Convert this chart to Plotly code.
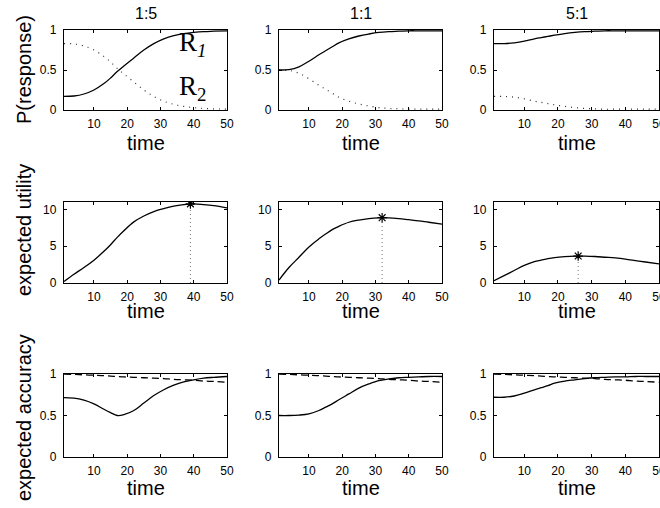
import plotly.graph_objects as go

# ---------------- data ----------------
t = [1, 4, 7, 10, 13, 15, 17, 19, 22, 25, 28, 31, 34, 37, 40, 43, 46, 50]
col_titles = ["1:5", "1:1", "5:1"]
row_labels = ["P(response)", "expected utility", "expected accuracy"]

# row 1: P(response)
r1_15 = [.17, .175, .20, .25, .33, .40, .48, .55, .65, .75, .83, .89, .93, .955, .97, .98, .985, .99]
r2_15 = [.83, .825, .80, .75, .67, .60, .52, .45, .35, .25, .17, .11, .07, .045, .03, .02, .015, .01]
r1_11 = [.50, .505, .54, .61, .69, .74, .79, .84, .89, .925, .95, .97, .98, .985, .99, .99, .99, .99]
r2_11 = [.50, .495, .46, .39, .31, .26, .21, .16, .11, .075, .05, .03, .02, .015, .01, .01, .01, .01]
r1_51 = [.83, .83, .84, .86, .89, .905, .92, .935, .955, .97, .98, .985, .99, .99, .99, .99, .99, .99]
r2_51 = [.17, .17, .16, .14, .11, .095, .08, .065, .045, .03, .02, .015, .01, .01, .01, .01, .01, .01]

# row 2: expected utility
eu_15 = [0.2, 1.2, 2.1, 3.1, 4.3, 5.2, 6.2, 7.1, 8.3, 9.1, 9.7, 10.1, 10.45, 10.65, 10.75, 10.65, 10.5, 10.2]
eu_11 = [0.4, 2.1, 3.5, 4.9, 6.0, 6.65, 7.25, 7.7, 8.25, 8.55, 8.75, 8.85, 8.85, 8.75, 8.6, 8.45, 8.25, 8.0]
eu_51 = [0.3, 1.0, 1.7, 2.4, 2.9, 3.1, 3.3, 3.45, 3.58, 3.65, 3.65, 3.6, 3.5, 3.4, 3.25, 3.05, 2.85, 2.6]
peak_t = [39, 32, 26]
peak_u = [10.75, 8.87, 3.66]

# row 3: expected accuracy
ea_15 = [.715, .71, .685, .64, .575, .535, .50, .51, .56, .65, .74, .81, .865, .905, .93, .95, .96, .97]
ea_11 = [.50, .50, .505, .52, .56, .60, .64, .69, .76, .83, .88, .92, .94, .955, .96, .965, .97, .97]
ea_51 = [.72, .72, .735, .77, .81, .835, .86, .89, .915, .93, .945, .955, .96, .965, .965, .97, .97, .97]
acc_ref = [1.0, .995, .99, .985, .98, .975, .97, .965, .96, .955, .95, .945, .935, .93, .925, .915, .91, .90]

x_ticks = [10, 20, 30, 40, 50]
W, H = 660, 508

# ---------------- layout geometry (pixels) ----------------
col_px = [(64, 227), (279, 442), (494, 659)]
row_px = [(30, 110), (202, 283), (374, 457)]

def xd(a, b):
    return [a / W, b / W]

def yd(a, b):
    return [1 - b / H, 1 - a / H]

FONT = "Liberation Sans, Arial, Helvetica, sans-serif"
fig = go.Figure()

solid = dict(color="black", width=1.3)
dotted = dict(color="#333333", width=1.2, dash="1px,5px")
dashed = dict(color="black", width=1.3, dash="7px,4px")

row_series = [
    [(r1_15, r2_15), (r1_11, r2_11), (r1_51, r2_51)],
    [eu_15, eu_11, eu_51],
    [ea_15, ea_11, ea_51],
]

for r in range(3):
    for c in range(3):
        k = r * 3 + c + 1
        xa = "x" if k == 1 else f"x{k}"
        ya = "y" if k == 1 else f"y{k}"
        if r == 0:
            s1, s2 = row_series[0][c]
            fig.add_trace(go.Scatter(x=t, y=s2, mode="lines", line=dotted, line_shape="spline", xaxis=xa, yaxis=ya))
            fig.add_trace(go.Scatter(x=t, y=s1, mode="lines", line=solid, line_shape="spline", xaxis=xa, yaxis=ya))
        elif r == 1:
            fig.add_trace(go.Scatter(x=[peak_t[c], peak_t[c]], y=[0, peak_u[c]], mode="lines",
                                     line=dict(color="#777777", width=1, dash="1px,3px"), xaxis=xa, yaxis=ya))
            fig.add_trace(go.Scatter(x=t, y=row_series[1][c], mode="lines", line=solid, line_shape="spline",
                                     xaxis=xa, yaxis=ya))
            fig.add_trace(go.Scatter(x=[peak_t[c]], y=[peak_u[c]], mode="markers",
                                     marker=dict(symbol="asterisk-open", size=8, color="black",
                                                 line=dict(color="black", width=1.2)),
                                     xaxis=xa, yaxis=ya))
        else:
            fig.add_trace(go.Scatter(x=t, y=acc_ref, mode="lines", line=dashed, line_shape="spline", xaxis=xa, yaxis=ya))
            fig.add_trace(go.Scatter(x=t, y=row_series[2][c], mode="lines", line=solid, line_shape="spline",
                                     xaxis=xa, yaxis=ya))

        common = dict(showline=True, linecolor="black", linewidth=1.3, mirror="ticks", ticks="inside",
                      ticklen=3, tickcolor="black", tickwidth=1, showgrid=False, zeroline=False,
                      automargin=False, ticklabeloverflow="allow",
                      tickfont=dict(family=FONT, size=12, color="black"))
        xkey = "xaxis" if k == 1 else f"xaxis{k}"
        ykey = "yaxis" if k == 1 else f"yaxis{k}"
        fig.layout[xkey] = dict(domain=xd(*col_px[c]), anchor=ya, range=[1, 50],
                                tickvals=x_ticks, ticklabelstandoff=2, **common)
        if r == 1:
            yr, yt, ytt = [0, 11], [0, 5, 10], ["0", "5", "10"]
        else:
            yr, yt, ytt = [0, 1], [0, 0.5, 1], ["0", "0.5", "1"]
        fig.layout[ykey] = dict(domain=yd(*row_px[r]), anchor=xa, range=yr, tickvals=yt, ticktext=ytt,
                                ticklabelstandoff=4, **common)

annotations = []
# column titles
for c in range(3):
    cx = (col_px[c][0] + col_px[c][1]) / 2 / W
    annotations.append(dict(text=col_titles[c], x=cx, y=1 - 14 / H, xref="paper", yref="paper",
                            xanchor="center", yanchor="middle",
                            showarrow=False, font=dict(family=FONT, size=16, color="black")))
# x-axis titles "time"
time_y = [143, 311, 488]
for r in range(3):
    for c in range(3):
        cx = (col_px[c][0] + col_px[c][1]) / 2 / W
        annotations.append(dict(text="time", x=cx, y=1 - time_y[r] / H, xref="paper", yref="paper",
                                xanchor="center", yanchor="middle",
                                showarrow=False, font=dict(family=FONT, size=20, color="black")))
# row labels
lab_y = [70, 230, 418]
for r in range(3):
    annotations.append(dict(text=row_labels[r], x=24 / W, y=1 - lab_y[r] / H, xref="paper", yref="paper",
                            xanchor="center", yanchor="middle",
                            textangle=-90, showarrow=False, font=dict(family=FONT, size=20, color="black")))
# curve labels
SERIF = "Liberation Serif, Times New Roman, serif"
annotations.append(dict(text="R<sub><i>1</i></sub>", x=35, y=0.83, xref="x", yref="y", xanchor="left",
                        yanchor="middle", showarrow=False, font=dict(family=SERIF, size=27, color="black")))
annotations.append(dict(text="R<sub>2</sub>", x=35, y=0.27, xref="x", yref="y", xanchor="left",
                        yanchor="middle", showarrow=False, font=dict(family=SERIF, size=27, color="black")))

fig.update_layout(width=W, height=H, margin=dict(l=0, r=0, t=0, b=0, autoexpand=False), showlegend=False,
                  plot_bgcolor="white", paper_bgcolor="white", annotations=annotations)

fig.write_html("out.html", config={"displayModeBar": False},
               post_script="document.body.style.margin='0px';document.body.style.overflow='hidden';")
